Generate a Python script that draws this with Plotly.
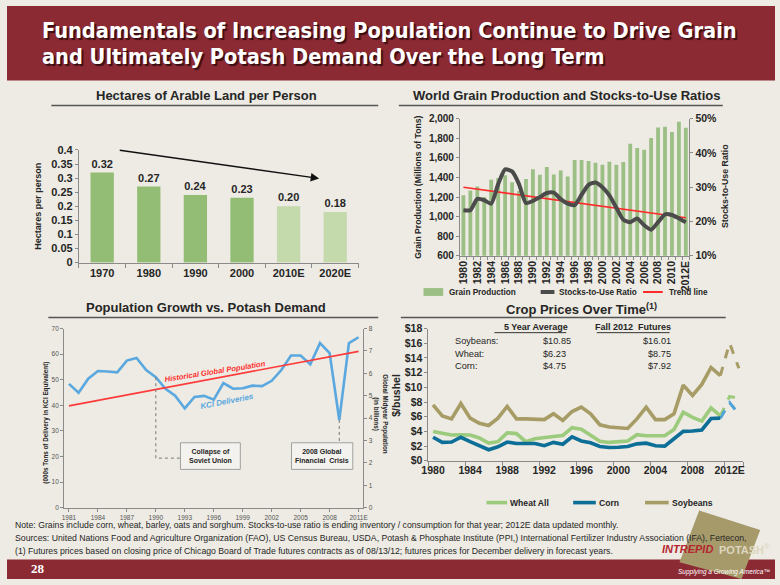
import plotly.graph_objects as go

W, H = 780, 585
ARIAL = "Liberation Sans, Arial, sans-serif"
COND = "DejaVu Sans Condensed, Liberation Sans Narrow, Arial Narrow, sans-serif"
TXT = "#262626"
AXC = "#8a8a8a"
BG = "#EDEBE3"
MAROON = "#8C2A34"


def X(p):
    return p / W


def Y(p):
    return 1 - p / H


# ---------------- data ----------------
land_labels = ["1970", "1980", "1990", "2000", "2010E", "2020E"]
land_values = [0.32, 0.27, 0.24, 0.23, 0.20, 0.18]
land_estimated = [False, False, False, False, True, True]

grain_years = list(range(1980, 2013))
grain_tick_years = list(range(1980, 2013, 2))
grain_tick_labels = [str(y) for y in range(1980, 2012, 2)] + ["2012E"]
grain_production = [1217, 1267, 1307, 1200, 1377, 1393, 1423, 1350, 1260, 1383,
                    1483, 1427, 1507, 1430, 1470, 1410, 1577, 1577, 1567, 1550,
                    1530, 1560, 1530, 1557, 1743, 1700, 1683, 1803, 1910, 1917,
                    1863, 1967, 1907]
stocks_to_use = [23.3, 23.3, 26.6, 26.2, 25.2, 30.9, 35.2, 34.6, 30.9, 25.4,
                 26.0, 27.1, 28.3, 28.4, 26.5, 25.2, 24.8, 27.8, 30.7, 31.4,
                 30.0, 27.6, 24.0, 20.5, 19.8, 20.9, 18.9, 17.6, 19.8, 22.1,
                 21.9, 20.9, 19.8]
trend_years = [1980, 2012]
trend_values = [30.0, 21.1]

kcl_years = list(range(1981, 2012))
kcl_tick_years = list(range(1981, 2012, 3))
kcl_tick_labels = [str(y) for y in range(1981, 2010, 3)] + ["2011E"]
kcl_deliveries = [48.4, 44.9, 50.4, 53.4, 53.2, 52.9, 57.5, 58.5, 53.8, 51.0,
                  46.5, 43.8, 38.8, 43.3, 43.7, 42.2, 48.7, 46.5, 46.7, 47.7,
                  47.5, 49.6, 53.8, 59.5, 59.5, 56.0, 64.3, 60.4, 34.3, 64.3,
                  66.6]
population_years = [1981, 2011]
population_billions = [4.55, 6.98]

crop_years = list(range(1980, 2012))
crop_tick_years = list(range(1980, 2013, 4))
crop_tick_labels = [str(y) for y in range(1980, 2012, 4)] + ["2012E"]
wheat = [4.0, 3.7, 3.5, 3.55, 3.5, 3.1, 2.4, 2.6, 3.8, 3.7,
         2.6, 3.0, 3.2, 3.3, 3.45, 4.5, 4.3, 3.4, 2.65, 2.5,
         2.6, 2.7, 3.55, 3.4, 3.4, 3.4, 4.25, 6.6, 5.9, 5.4,
         7.2, 6.1]
corn = [3.2, 2.5, 2.55, 3.2, 2.6, 2.1, 1.5, 1.9, 2.55, 2.35,
        2.3, 2.35, 2.05, 2.5, 2.25, 3.25, 2.7, 2.45, 1.95, 1.8,
        1.85, 1.95, 2.3, 2.4, 2.05, 2.0, 3.0, 4.0, 4.05, 4.2,
        5.75, 5.8]
soybeans = [7.6, 6.1, 5.7, 7.8, 5.8, 5.1, 4.8, 5.8, 7.4, 5.7,
            5.7, 5.6, 5.6, 6.4, 5.5, 6.7, 7.3, 6.4, 4.9, 4.6,
            4.5, 4.4, 5.7, 7.3, 5.6, 5.6, 6.4, 10.3, 8.9, 10.4,
            12.7, 11.6]
forecast_years = [2011, 2012, 2013]
wheat_futures = [6.1, 8.75, 8.5]
corn_futures = [5.8, 7.92, 6.35]
soybean_futures = [11.6, 16.01, 12.6]

table_rows = ["Soybeans:", "Wheat:", "Corn:"]
table_avg = ["$10.85", "$6.23", "$4.75"]
table_fut = ["$16.01", "$8.75", "$7.92"]

# ---------------- figure ----------------
fig = go.Figure()

fig.add_trace(go.Bar(
    x=list(range(len(land_labels))), y=land_values, xaxis="x", yaxis="y",
    marker=dict(color=["#C4DAAC" if e else "#93BC74" for e in land_estimated], line=dict(width=0)),
    width=0.5, text=[f"{v:.2f}" for v in land_values], textposition="outside",
    textfont=dict(family=ARIAL, size=11, color=TXT, weight="bold"), cliponaxis=False,
    hoverinfo="skip"))

fig.add_trace(go.Bar(x=grain_years, y=grain_production, xaxis="x2", yaxis="y2",
                     marker=dict(color="#9CBF86", line=dict(width=0)), width=0.55, hoverinfo="skip"))
fig.add_trace(go.Scatter(x=trend_years, y=trend_values, xaxis="x2", yaxis="y3", mode="lines",
                         line=dict(color="#FF2A2A", width=1.6), hoverinfo="skip"))
fig.add_trace(go.Scatter(x=grain_years, y=stocks_to_use, xaxis="x2", yaxis="y3", mode="lines",
                         line=dict(color="#4B4B4B", width=4, shape="spline", smoothing=0.6),
                         hoverinfo="skip"))

fig.add_trace(go.Scatter(x=population_years, y=population_billions, xaxis="x3", yaxis="y5",
                         mode="lines", line=dict(color="#FF3B3B", width=1.6), hoverinfo="skip"))
fig.add_trace(go.Scatter(x=kcl_years, y=kcl_deliveries, xaxis="x3", yaxis="y4", mode="lines",
                         line=dict(color="#5AA8DF", width=2.6), hoverinfo="skip"))

WHEAT_C, CORN_C, SOY_C = "#9CCB7D", "#0D6E97", "#A89C66"
fig.add_trace(go.Scatter(x=forecast_years, y=wheat_futures, xaxis="x4", yaxis="y6", mode="lines",
                         line=dict(color=WHEAT_C, width=3, dash="dash"), hoverinfo="skip"))
fig.add_trace(go.Scatter(x=forecast_years, y=corn_futures, xaxis="x4", yaxis="y6", mode="lines",
                         line=dict(color="#4FA3D8", width=3, dash="dash"), hoverinfo="skip"))
fig.add_trace(go.Scatter(x=forecast_years, y=soybean_futures, xaxis="x4", yaxis="y6", mode="lines",
                         line=dict(color=SOY_C, width=3, dash="dash"), hoverinfo="skip"))
fig.add_trace(go.Scatter(x=crop_years, y=soybeans, xaxis="x4", yaxis="y6", mode="lines",
                         line=dict(color=SOY_C, width=3.6), hoverinfo="skip"))
fig.add_trace(go.Scatter(x=crop_years, y=wheat, xaxis="x4", yaxis="y6", mode="lines",
                         line=dict(color=WHEAT_C, width=3.6), hoverinfo="skip"))
fig.add_trace(go.Scatter(x=crop_years, y=corn, xaxis="x4", yaxis="y6", mode="lines",
                         line=dict(color=CORN_C, width=3.6), hoverinfo="skip"))


def tf(size, color=TXT, bold=True):
    d = dict(family=ARIAL, size=size, color=color)
    if bold:
        d["weight"] = "bold"
    return d


axis_common = dict(showgrid=False, zeroline=False, showline=True, linecolor=AXC, linewidth=1,
                   tickcolor=AXC, fixedrange=True)

fig.update_layout(
    width=W, height=H, margin=dict(l=0, r=0, t=0, b=0), autosize=False,
    paper_bgcolor=BG, plot_bgcolor="rgba(0,0,0,0)", showlegend=False,
    xaxis=dict(domain=[X(73), X(357)], anchor="y", range=[-0.5, 5.5], tickmode="array",
               tickvals=list(range(6)), ticktext=land_labels, ticks="", tickfont=tf(11),
               minor=dict(tickvals=[i - 0.5 for i in range(7)], ticks="outside", ticklen=4,
                          tickcolor=AXC), **axis_common),
    yaxis=dict(domain=[Y(262), Y(147)], anchor="x", range=[0, 0.4], dtick=0.05, ticks="outside",
               ticklen=3, tickfont=tf(11), **axis_common),
    xaxis2=dict(domain=[X(460), X(693)], anchor="y2", range=[1979.5, 2012.5], tickmode="array",
                tickvals=grain_tick_years, ticktext=grain_tick_labels, tickangle=-90, ticks="",
                tickfont=tf(10.5),
                minor=dict(tick0=1979.5, dtick=1, ticks="outside", ticklen=3, tickcolor=AXC),
                **axis_common),
    yaxis2=dict(domain=[Y(255), Y(115)], anchor="x2", range=[600, 2000], dtick=200,
                tickformat=",", ticks="outside", ticklen=3, tickfont=tf(10), **axis_common),
    yaxis3=dict(overlaying="y2", side="right", anchor="x2", range=[10, 50], dtick=10,
                ticksuffix="%", ticks="outside", ticklen=3, tickfont=tf(10.5), **axis_common),
    xaxis3=dict(domain=[X(58), X(362)], anchor="y4", range=[1980.5, 2011.5], tickmode="array",
                tickvals=kcl_tick_years, ticktext=kcl_tick_labels, ticks="outside", ticklen=3,
                tickfont=tf(6.5, "#555", False), **axis_common),
    yaxis4=dict(domain=[Y(512.3), Y(329.3)], anchor="x3", range=[0, 70], dtick=10,
                ticks="outside", ticklen=3, tickfont=tf(6.5, "#555", False), **axis_common),
    yaxis5=dict(overlaying="y4", side="right", anchor="x3", range=[0, 8], dtick=1,
                ticks="outside", ticklen=3, tickfont=tf(6.5, "#555", False), **axis_common),
    xaxis4=dict(domain=[X(428), X(748)], anchor="y6", range=[1979.5, 2013.5], tickmode="array",
                tickvals=crop_tick_years, ticktext=crop_tick_labels, ticks="", tickfont=tf(10.5),
                minor=dict(tickvals=[1979.5 + 4 * i for i in range(9)] + [2013.5], ticks="outside",
                           ticklen=4, tickcolor=AXC), **axis_common),
    yaxis6=dict(domain=[Y(464.3), Y(329.3)], anchor="x4", range=[0, 18], dtick=2,
                tickprefix="$", ticks="outside", ticklen=3, tickfont=tf(10.5), **axis_common),
)

shapes = []
annotations = []


def ann(text, x, y, size=10, color=TXT, family=ARIAL, xanchor="center", yanchor="middle",
        angle=0, xref="paper", yref="paper", shadow=None, **kw):
    font = dict(family=family, size=size, color=color)
    if shadow:
        font["shadow"] = shadow
    annotations.append(dict(text=text, x=x, y=y, xref=xref, yref=yref, showarrow=False,
                            xanchor=xanchor, yanchor=yanchor, textangle=angle,
                            font=font, **kw))


def hline(x0, x1, y, color="#555", width=1.5, dash="solid"):
    shapes.append(dict(type="line", xref="paper", yref="paper", x0=X(x0), x1=X(x1), y0=Y(y), y1=Y(y),
                       line=dict(color=color, width=width, dash=dash)))


# title bar and footer bar
shapes.append(dict(type="rect", xref="paper", yref="paper", x0=0, x1=1, y0=Y(76), y1=1,
                   fillcolor=MAROON, line=dict(width=0), layer="below"))
shapes.append(dict(type="rect", xref="paper", yref="paper", x0=0, x1=1, y0=0, y1=Y(565),
                   fillcolor=MAROON, line=dict(width=0), layer="below"))
title1 = "Fundamentals of Increasing Population Continue to Drive Grain"
title2 = "and Ultimately Potash Demand Over the Long Term"
TSIZE = 21.6
for t, yy in [(title1, 25), (title2, 52)]:
    ann(f"<b>{t}</b>", X(34), Y(yy), size=TSIZE, color="white", family=COND, xanchor="left",
        shadow="2px 2px 1px #3A0E12")

# section titles + underlines
ann("<b>Hectares of Arable Land per Person</b>", X(203), Y(91), size=13)
hline(45, 377, 101.5)
ann("<b>World Grain Production and Stocks-to-Use Ratios</b>", X(568), Y(91), size=13)
hline(398, 727, 101.5)
ann("<b>Population Growth vs. Potash Demand</b>", X(202), Y(308), size=13)
hline(42, 377, 318)
ann("<b>Crop Prices Over Time<sup>(1)</sup></b>", X(583), Y(309), size=13)
hline(400, 730, 318)

# top-left axis title and arrow
ann("<b>Hectares per person</b>", X(32), Y(204.5), size=9, angle=-90)
annotations.append(dict(x=4.655, y=0.299, ax=0.345, ay=0.4, xref="x", yref="y", axref="x", ayref="y",
                        showarrow=True, arrowhead=2, arrowsize=1.2, arrowwidth=1.4,
                        arrowcolor="#111", text=""))

# top-right axis titles + legend
LEG = 8.2
ann("<b>Grain Production (Millions of Tons)</b>", X(418), Y(185), size=8.6, angle=-90)
ann("<b>Stocks-to-Use Ratio</b>", X(729), Y(184), size=8.8, angle=-90)
shapes.append(dict(type="rect", xref="paper", yref="paper", x0=X(423), x1=X(443), y0=Y(296),
                   y1=Y(288), fillcolor="#9CBF86", line=dict(width=0)))
ann("<b>Grain Production</b>", X(447), Y(292), size=LEG, xanchor="left")
hline(542, 556, 292, color="#4B4B4B", width=4)
ann("<b>Stocks-to-Use Ratio</b>", X(559), Y(292), size=LEG, xanchor="left")
hline(646, 666, 292, color="#FF2A2A", width=2)
ann("<b>Trend line</b>", X(670), Y(292), size=LEG, xanchor="left")

# bottom-left labels
ann("<b>(000s Tons of Delivery in KCI Equivalent)</b>", X(40), Y(425), size=6.3, angle=-90)
ann("<b>Global Midyear Population<br>(in billions)</b>", X(379), Y(417), size=6.3, angle=90)
ann("<b><i>Historical Global Population</i></b>", X(211.5), Y(373), size=7.6, color="#FF3030",
    angle=-9)
ann("<b><i>KCI Deliveries</i></b>", X(223), Y(404), size=8, color="#5AA8DF", angle=-11)
for (bx0, bx1, label) in [(1992.55, 1998.75, "Collapse of<br>Soviet Union"),
                          (2004.05, 2010.4, "2008 Global<br>Financial  Crisis")]:
    shapes.append(dict(type="rect", xref="x3", yref="y4", x0=bx0, x1=bx1, y0=15.0, y1=25.4,
                       fillcolor="#F3F2EE", line=dict(color="#A0A0A0", width=1)))
    ann(f"<b>{label}</b>", (bx0 + bx1) / 2, 20.2, size=7, xref="x3", yref="y4")
shapes.append(dict(type="path", xref="x3", yref="y4",
                   path="M 1990,51.0 L 1990,19.4 L 1992.55,19.4",
                   line=dict(color="#777", width=1, dash="dot")))
shapes.append(dict(type="line", xref="x3", yref="y4", x0=2009, x1=2009, y0=34.3, y1=25.4,
                   line=dict(color="#777", width=1, dash="dot")))

# bottom-right table, labels, legend
ann("<b>$/bushel</b>", X(395), Y(397), size=10.5, angle=-90)
ann("<b>5 Year Average</b>", X(537), Y(328), size=9)
hline(495, 568, 333.5, color="#333", width=1)
ann("<b>Fall 2012  Futures</b>", X(636), Y(328), size=9)
hline(599, 673, 333.5, color="#333", width=1)
for i, (r, a, f) in enumerate(zip(table_rows, table_avg, table_fut)):
    yy = 342 + 13 * i
    ann(r, X(453), Y(yy), size=9.2, xanchor="left")
    ann(a, X(542), Y(yy), size=9.2, xanchor="left")
    ann(f, X(676), Y(yy), size=9.2, xanchor="right")
for (x0, x1, col, label) in [(487, 508, WHEAT_C, "Wheat All"), (575, 598, CORN_C, "Corn"),
                             (648, 672, SOY_C, "Soybeans")]:
    hline(x0, x1, 507, color=col, width=3.6)
    ann(f"<b>{label}</b>", X(x1 + 1), Y(507), size=8.6, xanchor="left")

# footer
FOOT = 8.7
ann("Note: Grains include corn, wheat, barley, oats and sorghum. Stocks-to-use ratio is ending inventory / consumption for that year; 2012E data updated monthly.",
    X(6), Y(530), size=FOOT, xanchor="left")
ann("Sources: United Nations Food and Agriculture Organization (FAO), US Census Bureau, USDA, Potash &amp; Phosphate Institute (PPI,) International Fertilizer Industry Association (IFA), Fertecon,",
    X(6), Y(543), size=FOOT, xanchor="left")
ann("(1) Futures prices based on closing price of Chicago Board of Trade futures contracts as of 08/13/12; futures prices for December delivery in forecast years.",
    X(6), Y(556), size=FOOT, xanchor="left")

# logo
shapes.append(dict(type="path", xref="paper", yref="paper",
                   path=f"M {X(703)},{Y(515)} L {X(765)},{Y(535)} L {X(746)},{Y(585)} L {X(683)},{Y(568)} Z",
                   fillcolor="#A69A6A", line=dict(width=0)))
ann("<b><i>INTREPID</i></b>", X(719), Y(554), size=11, color="#B5262E", xanchor="right")
ann("<b>POTASH</b><sup>®</sup>", X(721), Y(554), size=11, color="#DCD6BE", xanchor="left")
ann("<b>28</b>", X(22), Y(574), size=13, color="white", family="Liberation Serif, Times New Roman, serif",
    xanchor="left")
ann("<i>Supplying a Growing America™</i>", X(777), Y(578), size=6.5, color="white", xanchor="right")

fig.update_layout(shapes=shapes, annotations=annotations)
fig.write_html("out.html", config={"displayModeBar": False},
               post_script="document.body.style.margin='0';document.body.style.overflow='hidden';")
